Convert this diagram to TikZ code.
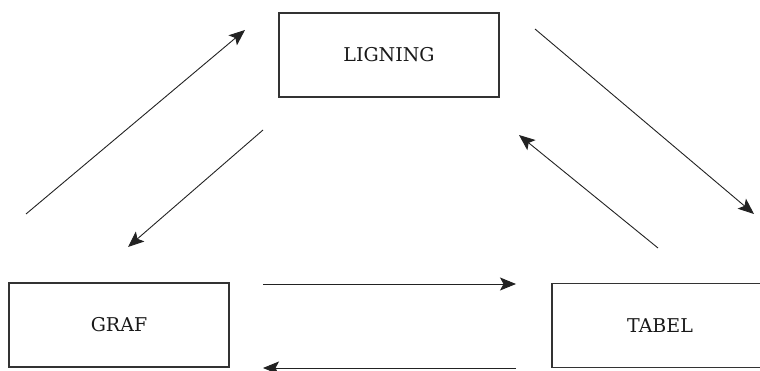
\documentclass[tikz,border=0pt]{standalone}
\usepackage{fontspec}
\setmainfont{DejaVu Serif}
\usetikzlibrary{arrows.meta}
\definecolor{boxline}{HTML}{333333}
\definecolor{arrline}{HTML}{222222}
\tikzset{
  box/.style={draw=boxline, line width=1.2pt, inner sep=0pt, minimum height=84pt,
    font=\fontsize{19}{22}\selectfont, text=black!90},
  conn/.style={draw=arrline, line width=0.9pt, -{Stealth[length=16pt,width=13pt,inset=3.5pt]}}
}
\begin{document}
\begin{tikzpicture}[x=1pt,y=-1pt]
\useasboundingbox (0,0) rectangle (760,371);
\clip (0,0) rectangle (760,371);
\node[box, minimum width=220pt] (lig) at (389,55) {LIGNING};
\node[box, minimum width=220pt] (graf) at (119,325) {GRAF};
\node[box, minimum width=216pt] (tab) at (660,325.5) {TABEL};
\coordinate (a1s) at (26,214);  \coordinate (a1e) at (245,30);
\coordinate (a2s) at (263,130); \coordinate (a2e) at (128,247);
\coordinate (a3s) at (535,29);  \coordinate (a3e) at (754,214);
\coordinate (a4s) at (658,248); \coordinate (a4e) at (519,135);
\coordinate (a5s) at (263,284); \coordinate (a5e) at (516,284);
\coordinate (a6s) at (516,368); \coordinate (a6e) at (263,368);
\draw[conn] (a1s) -- (a1e);
\draw[conn] (a2s) -- (a2e);
\draw[conn] (a3s) -- (a3e);
\draw[conn] (a4s) -- (a4e);
\draw[conn] (a5s) -- (a5e);
\draw[conn] (a6s) -- (a6e);
\end{tikzpicture}
\end{document}
